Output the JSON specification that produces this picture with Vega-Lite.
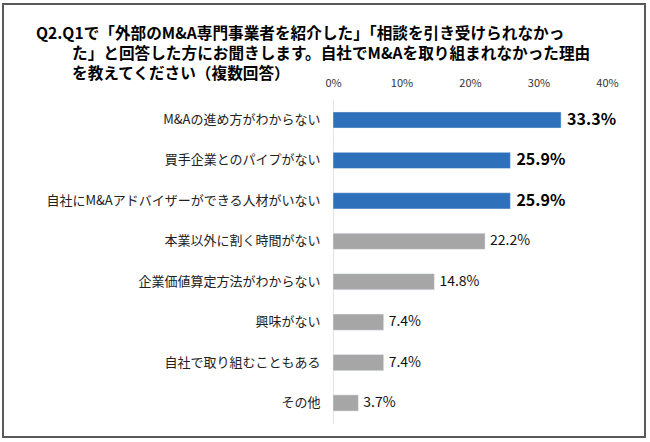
{
  "$schema": "https://vega.github.io/schema/vega-lite/v6.json",
  "width": 642,
  "height": 433,
  "autosize": {"type": "none"},
  "padding": {"left": 3, "top": 4, "right": 5, "bottom": 5},
  "background": "#ffffff",
  "config": {
    "view": {"stroke": "#595959", "strokeWidth": 2},
    "font": "Noto Sans CJK JP"
  },
  "title": {
    "text": [
      "Q2.Q1で「外部のM&A専門事業者を紹介した」「相談を引き受けられなかっ",
      "\u2800\u2800\u2800た」と回答した方にお聞きします。自社でM&Aを取り組まれなかった理由",
      "\u2800\u2800\u2800を教えてください（複数回答）"
    ],
    "anchor": "start",
    "frame": "group",
    "dx": 33,
    "offset": -79,
    "font": "Noto Sans CJK JP",
    "fontSize": 15.65,
    "fontWeight": "bold",
    "lineHeight": 20,
    "color": "#000000"
  },
  "data": {
    "values": [
      {"reason": "M&Aの進め方がわからない", "value": 0.333},
      {"reason": "買手企業とのパイプがない", "value": 0.259},
      {"reason": "自社にM&Aアドバイザーができる人材がいない", "value": 0.259},
      {"reason": "本業以外に割く時間がない", "value": 0.222},
      {"reason": "企業価値算定方法がわからない", "value": 0.148},
      {"reason": "興味がない", "value": 0.074},
      {"reason": "自社で取り組むこともある", "value": 0.074},
      {"reason": "その他", "value": 0.037}
    ]
  },
  "encoding": {
    "y": {
      "field": "reason",
      "type": "nominal",
      "sort": null,
      "title": null,
      "scale": {"range": [95.8, 419.2], "paddingInner": 0.6, "paddingOuter": 0.3},
      "axis": {
        "orient": "left",
        "offset": -330,
        "domain": true,
        "domainColor": "#e3e3e3",
        "domainWidth": 1,
        "ticks": false,
        "labelPadding": 13,
        "labelFont": "Noto Sans CJK JP",
        "labelFontSize": 13,
        "labelColor": "#222222",
        "labelLimit": 400
      }
    },
    "x": {
      "field": "value",
      "type": "quantitative",
      "title": null,
      "scale": {"domain": [0, 0.4], "range": [330, 604], "nice": false},
      "axis": {
        "orient": "top",
        "offset": -86,
        "values": [0, 0.1, 0.2, 0.3, 0.4],
        "format": ".0%",
        "domain": false,
        "ticks": false,
        "grid": false,
        "labelFlush": false,
        "labelPadding": 2,
        "labelFont": "Noto Sans CJK JP",
        "labelFontSize": 11,
        "labelColor": "#333333"
      }
    }
  },
  "layer": [
    {
      "mark": {"type": "bar", "stroke": "#e8eef7", "strokeWidth": 0.5},
      "encoding": {
        "color": {
          "condition": {"test": "datum.value > 0.25", "value": "#2E70BA"},
          "value": "#A6A6A6"
        }
      }
    },
    {
      "transform": [{"filter": "datum.value > 0.25"}],
      "mark": {"type": "text", "align": "left", "baseline": "middle", "dx": 6, "fontSize": 16, "fontWeight": "bold", "color": "#000000", "font": "Noto Sans CJK JP"},
      "encoding": {"text": {"field": "value", "type": "quantitative", "format": ".1%"}}
    },
    {
      "transform": [{"filter": "datum.value <= 0.25"}],
      "mark": {"type": "text", "align": "left", "baseline": "middle", "dx": 5, "fontSize": 14, "color": "#111111", "font": "Noto Sans CJK JP"},
      "encoding": {"text": {"field": "value", "type": "quantitative", "format": ".1%"}}
    }
  ]
}
